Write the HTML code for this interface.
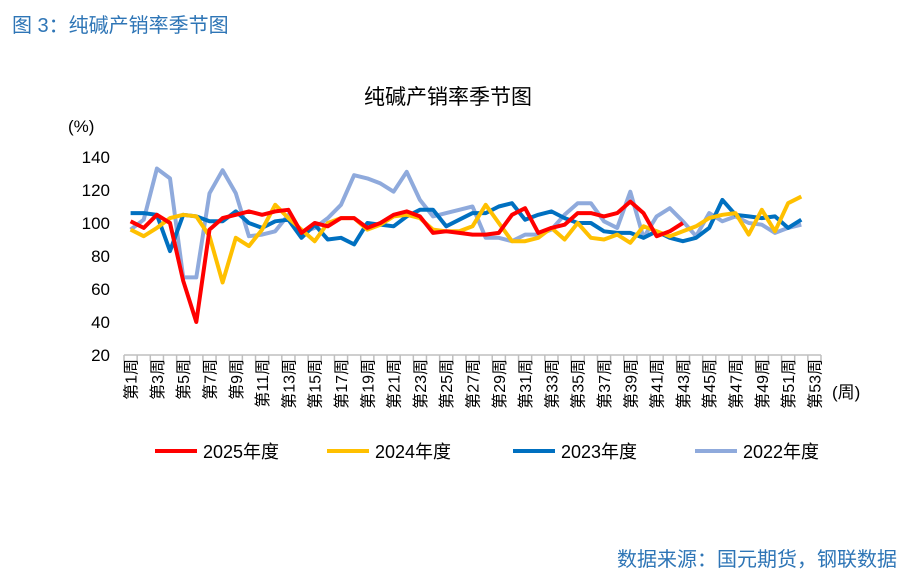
<!DOCTYPE html>
<html><head><meta charset="utf-8"><style>
body{margin:0;background:#fff;width:913px;height:577px;overflow:hidden;font-family:"Liberation Sans","Noto Sans CJK SC",sans-serif}
</style></head><body>
<svg width="913" height="577" xmlns="http://www.w3.org/2000/svg" font-family="Liberation Sans, Noto Sans CJK SC, sans-serif">
<text x="12" y="32" font-size="20" fill="#2E75B6">图 3：纯碱产销率季节图</text>
<text x="448" y="104" font-size="21" text-anchor="middle" fill="#000">纯碱产销率季节图</text>
<text x="68" y="132" font-size="17" fill="#000">(%)</text>
<text x="832" y="398" font-size="17" fill="#000">(周)</text>
<g id="yticks"></g><g id="xaxis"></g><g id="series"></g>
<g id="legend"></g>
<text x="897" y="566" font-size="20" text-anchor="end" fill="#2E75B6">数据来源：国元期货，钢联数据</text>
</svg>
<script>
const yTicks=[20,40,60,80,100,120,140];
const weeks=Array.from({length:53},(_,i)=>i+1);
const s2025=[101,97,105,100,65,40,96,103,105,107,105,107,108,94,100,98,103,103,97,100,105,107,104,94,95,94,93,93,94,105,109,94,97,99,106,106,104,106,113,106,92,95,100];
const s2024=[96,92,97,103,105,104,92,64,91,86,96,111,103,96,89,100,103,103,96,99,104,105,103,96,95,95,98,111,100,89,89,91,97,90,100,91,90,93,88,98,95,92,95,98,103,105,106,93,108,95,112,116];
const s2023=[106,106,105,83,105,104,101,101,107,100,97,101,102,91,99,90,91,87,100,99,98,104,108,108,98,102,106,106,110,112,102,105,107,103,100,100,95,94,94,91,95,91,89,91,97,114,105,104,103,104,97,102];
const s2022=[96,102,133,127,67,67,118,132,118,92,93,95,105,94,97,103,111,129,127,124,119,131,114,104,106,108,110,91,91,89,93,93,96,105,112,112,101,97,119,91,104,109,101,92,106,101,104,100,99,94,97,99];
const seriesNames=["2025年度","2024年度","2023年度","2022年度"];
const seriesData=[s2025,s2024,s2023,s2022];
const colors=["#FF0000","#FFC000","#0070C0","#8FAADC"];
const NS="http://www.w3.org/2000/svg";
const axL=124,axR=821,yBase=355,yTop=157;
const step=(axR-axL)/53;
const xs=w=>axL+(w-0.5)*step;
const ys=v=>yBase-(v-20)*(yBase-yTop)/120;
function mk(tag,attrs,parent){const e=document.createElementNS(NS,tag);for(const k in attrs)e.setAttribute(k,attrs[k]);parent.appendChild(e);return e;}
const yt=document.getElementById('yticks');
yTicks.forEach(v=>{const t=mk('text',{x:110,y:ys(v)+6,'font-size':17,'text-anchor':'end',fill:'#000'},yt);t.textContent=v;

});
const xa=document.getElementById('xaxis');
const axl=mk('line',{x1:axL,x2:axR,y1:yBase,y2:yBase,stroke:'#BFBFBF','stroke-width':1.5},xa);


for(let i=0;i<=53;i++){const x=axL+i*step;const tk=mk('line',{x1:x,x2:x,y1:yBase,y2:yBase+6,stroke:'#BFBFBF','stroke-width':1.5},xa);

}
weeks.forEach(w=>{if(w%2===0)return;const x=xs(w)+6;const t=mk('text',{x:0,y:0,'font-size':16,'text-anchor':'end',fill:'#000',transform:`translate(${x},${yBase+4}) rotate(-90)`},xa);t.textContent='第'+w+'周';

});
const sg=document.getElementById('series');
[3,2,1,0].forEach(k=>{const d=seriesData[k].map((v,i)=>(i?'L':'M')+xs(weeks[i]).toFixed(1)+','+ys(v).toFixed(1)).join('');
const p=mk('path',{d:d,fill:'none',stroke:colors[k],'stroke-width':4,'stroke-linejoin':'round'},sg);

});
const lg=document.getElementById('legend');
const lx=[155,327,513,695];
seriesNames.forEach((n,k)=>{const g=mk('g',{},lg);


mk('line',{x1:lx[k],x2:lx[k]+42,y1:451,y2:451,stroke:colors[k],'stroke-width':4},g);
const t=mk('text',{x:lx[k]+48,y:458,'font-size':18,fill:'#000'},g);t.textContent=n;});
</script>
</body></html>
